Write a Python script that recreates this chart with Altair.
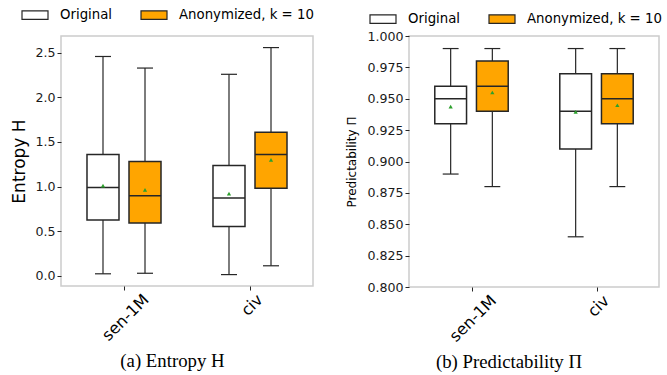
import altair as alt
import pandas as pd

categories = ["sen-1M", "civ"]
groups = ["Original", "Anonymized, k = 10"]

# order of every list: [sen-1M Original, sen-1M Anonymized, civ Original, civ Anonymized]
H_whislo = [0.02, 0.026, 0.011, 0.11]
H_q1 = [0.625, 0.59, 0.552, 0.98]
H_med = [0.99, 0.897, 0.87, 1.36]
H_q3 = [1.36, 1.28, 1.237, 1.61]
H_whishi = [2.46, 2.33, 2.26, 2.56]
H_mean = [1.01, 0.963, 0.92, 1.30]

P_whislo = [0.89, 0.88, 0.84, 0.88]
P_q1 = [0.93, 0.94, 0.91, 0.93]
P_med = [0.95, 0.96, 0.94, 0.95]
P_q3 = [0.96, 0.98, 0.97, 0.97]
P_whishi = [0.99, 0.99, 0.99, 0.99]
P_mean = [0.9437, 0.955, 0.9395, 0.9448]

H_ticks = [0.0, 0.5, 1.0, 1.5, 2.0, 2.5]
P_ticks = [0.800, 0.825, 0.850, 0.875, 0.900, 0.925, 0.950, 0.975, 1.000]

ORANGE = "#FFA500"
EDGE = "#262626"
OFF = 0.1667   # group offset in category units
BOX_HALF = 0.127
CAP_HALF = 0.0635


def make_df(lo, q1, med, q3, hi, mean):
    rows = []
    k = 0
    for ci, c in enumerate(categories):
        for gi, g in enumerate(groups):
            pos = ci + (OFF if gi == 1 else -OFF)
            rows.append(dict(cat=c, group=g, pos=pos,
                             blo=pos - BOX_HALF, bhi=pos + BOX_HALF,
                             clo=pos - CAP_HALF, chi=pos + CAP_HALF,
                             lo=lo[k], q1=q1[k], med=med[k], q3=q3[k], hi=hi[k], mean=mean[k]))
            k += 1
    return pd.DataFrame(rows)


label_expr = "datum.value == 0 ? '%s' : '%s'" % (categories[0], categories[1])


def panel(df, ytitle, ydomain, yticks, yfmt, caption, w, h, title_size, title_pad,
          legend_y, title_dx):
    xs = alt.Scale(domain=[-0.5, 1.5], nice=False, zero=False)
    ys = alt.Scale(domain=ydomain, nice=False, zero=False)
    xaxis = alt.Axis(values=[0, 1], labelExpr=label_expr, title=None, grid=False, domain=False,
                     tickSize=4, tickColor=EDGE, labelAngle=-45, labelFontSize=16,
                     labelAlign="right", labelBaseline="top", labelPadding=1,
                     labelOverlap=False,
                     labelOffset={"condition": {"test": "datum.value == 0", "value": 16}, "value": 4},
                     labelColor="black", labelFont="DejaVu Sans")
    yaxis = alt.Axis(values=yticks, format=yfmt, title=ytitle, grid=False, domain=False,
                     tickSize=4, tickColor=EDGE, labelFontSize=12.6, labelColor="#1a1a1a",
                     labelOverlap=False, tickCount=len(yticks),
                     labelFont="DejaVu Sans", titleFont="DejaVu Sans", titleFontSize=title_size,
                     titleFontWeight="normal", titleColor="black", titlePadding=title_pad)

    def X(f):
        return alt.X(f + ":Q", scale=xs, axis=xaxis)

    def X2(f):
        return alt.X2(f + ":Q")

    def Y(f):
        return alt.Y(f + ":Q", scale=ys, axis=yaxis)

    def Y2(f):
        return alt.Y2(f + ":Q")

    base = alt.Chart(df)
    rule = dict(color=EDGE, strokeWidth=1.2)
    whisk_lo = base.mark_rule(**rule).encode(x=X("pos"), y=Y("lo"), y2=Y2("q1"))
    whisk_hi = base.mark_rule(**rule).encode(x=X("pos"), y=Y("q3"), y2=Y2("hi"))
    cap_lo = base.mark_rule(**rule).encode(x=X("clo"), x2=X2("chi"), y=Y("lo"))
    cap_hi = base.mark_rule(**rule).encode(x=X("clo"), x2=X2("chi"), y=Y("hi"))
    box = base.mark_rect(stroke=EDGE, strokeWidth=1.5).encode(
        x=X("blo"), x2=X2("bhi"), y=Y("q1"), y2=Y2("q3"),
        fill=alt.Fill("group:N", scale=alt.Scale(domain=groups, range=["white", ORANGE]),
                      legend=alt.Legend(orient="none", legendX=-40, legendY=legend_y,
                                        direction="horizontal", columns=2, title=None,
                                        symbolType="M-1,-0.33L1,-0.33L1,0.33L-1,0.33Z",
                                        symbolSize=676, symbolStrokeColor=EDGE,
                                        symbolStrokeWidth=1.2, labelFontSize=13.3,
                                        labelFont="DejaVu Sans", labelColor="black",
                                        columnPadding=25, labelOffset=11)))
    med = base.mark_rule(color=EDGE, strokeWidth=1.5).encode(x=X("blo"), x2=X2("bhi"), y=Y("med"))
    mean = base.mark_point(shape="triangle-up", filled=True, color="#2ca02c", size=18,
                           opacity=1).encode(x=X("pos"), y=Y("mean"))
    return alt.layer(whisk_lo, whisk_hi, cap_lo, cap_hi, box, med, mean).properties(
        width=w, height=h,
        title=alt.TitleParams(caption, orient="bottom", font="Liberation Serif", fontSize=18.8,
                              fontWeight="normal", color="black", anchor="middle",
                              frame="bounds", offset=9, dx=title_dx))


dfH = make_df(H_whislo, H_q1, H_med, H_q3, H_whishi, H_mean)
dfP = make_df(P_whislo, P_q1, P_med, P_q3, P_whishi, P_mean)

left = panel(dfH, "Entropy H", [-0.117, 2.69], H_ticks, ".1f", "(a) Entropy  H",
             252, 250, 17, 6, -35, 10)
right = panel(dfP, "Predictability Π", [0.8, 1.0], P_ticks, ".3f", "(b) Predictability Π",
              250, 251, 12, 8, -31, 5)

chart = alt.hconcat(left, right, spacing=30).resolve_scale(fill="independent").resolve_legend(
    fill="independent").properties(padding={"left": 10, "top": 0, "right": 3, "bottom": 0}).configure_view(
    stroke="#cccccc", strokeWidth=1.5)

chart.save("out.html", embed_options={"renderer": "svg", "actions": False})
